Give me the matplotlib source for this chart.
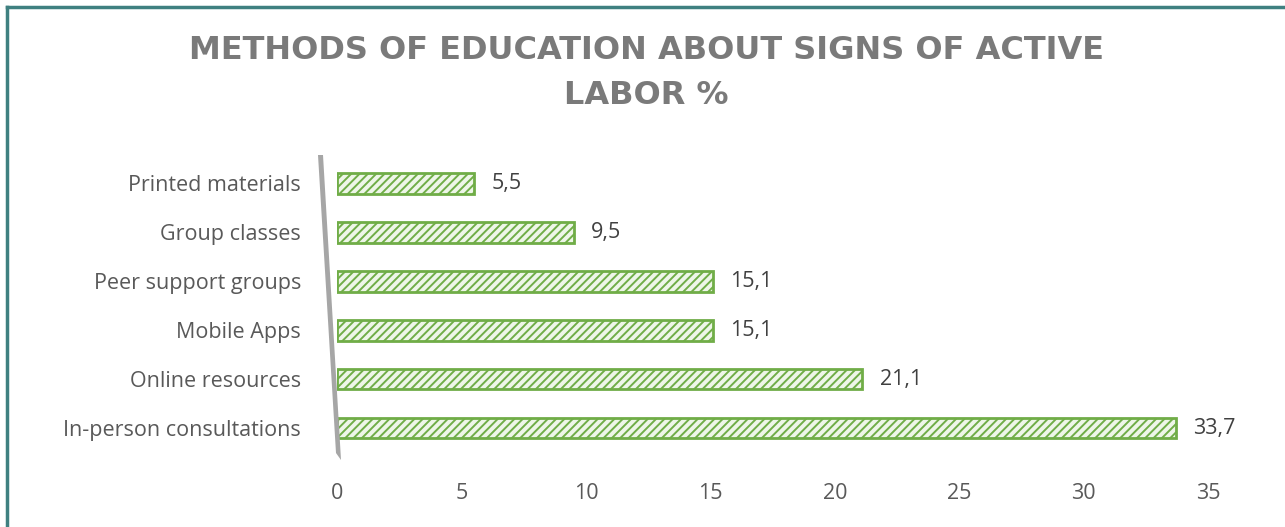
import matplotlib.pyplot as plt
from matplotlib.patches import Polygon
from matplotlib.lines import Line2D

# Survey results: methods of education about signs of active labor (%)
methods = ['In-person consultations', 'Online resources', 'Mobile Apps',
           'Peer support groups', 'Group classes', 'Printed materials']
shares = [33.7, 21.1, 15.1, 15.1, 9.5, 5.5]
share_labels = ['33,7', '21,1', '15,1', '15,1', '9,5', '5,5']
x_ticks = [0, 5, 10, 15, 20, 25, 30, 35]

GREEN = '#70ad47'
FILL = '#eef6e8'
TEXT = '#595959'

plt.rcParams['hatch.color'] = '#9ccc7e'
plt.rcParams['hatch.linewidth'] = 1.4

fig = plt.figure(figsize=(12.85, 5.27), dpi=100)
ax = fig.add_axes([0.2623, 0.1366, 0.678, 0.571])

y = list(range(len(methods)))
ax.barh(y, shares, height=0.42, color=FILL, edgecolor=GREEN,
        linewidth=2.0, hatch='////', zorder=3)

for yi, val, lab in zip(y, shares, share_labels):
    ax.text(val + 0.7, yi, lab, va='center', ha='left',
            fontsize=15.5, color='#404040', family='Open Sans')

ax.set_xlim(0, 35)
ax.set_ylim(-0.55, 5.6)
ax.set_xticks(x_ticks)
ax.set_xticklabels([str(t) for t in x_ticks])
ax.set_yticks(y)
ax.set_yticklabels(methods)
ax.tick_params(axis='x', length=0, pad=20, labelsize=15.5, labelcolor=TEXT)
ax.tick_params(axis='y', length=0, pad=26, labelsize=15.5, labelcolor=TEXT)
for lbl in ax.get_xticklabels() + ax.get_yticklabels():
    lbl.set_family('Open Sans')
for spine in ax.spines.values():
    spine.set_visible(False)

# slanted gray back wall of the 3-D style plot
W, H = 1285, 527
wall = Polygon([(318 / W, 1 - 155 / H), (323 / W, 1 - 155 / H),
                (341 / W, 1 - 460 / H), (336 / W, 1 - 453 / H)],
               closed=True, transform=fig.transFigure,
               facecolor='#a6a6a6', edgecolor='none', zorder=1)
fig.patches.append(wall)

# frame around the chart area
fig.add_artist(Line2D([7 / W, 7 / W], [0, 1 - 7 / H], color='#3f8080',
                      linewidth=2.5, transform=fig.transFigure))
fig.add_artist(Line2D([7 / W, 1], [1 - 7 / H, 1 - 7 / H], color='#3f8080',
                      linewidth=2.5, transform=fig.transFigure))

fig.text(0.503, 0.862, 'METHODS OF EDUCATION ABOUT SIGNS OF ACTIVE\nLABOR %',
         ha='center', va='center', fontsize=23, fontweight='bold',
         color='#7a7a7a', family='DejaVu Sans', linespacing=1.6)

fig.savefig('out.png', dpi=100)
